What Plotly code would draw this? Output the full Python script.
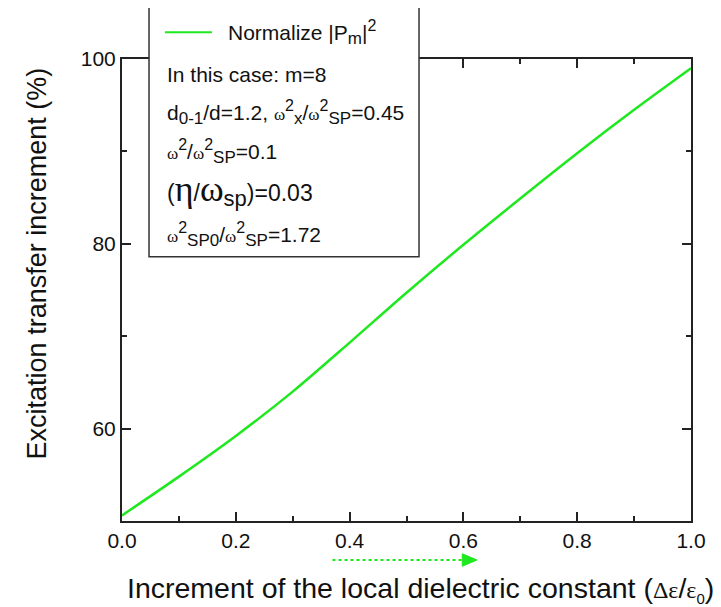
import plotly.graph_objects as go

# Data
x_vals = [0.0, 0.1, 0.2, 0.3, 0.4, 0.5, 0.6, 0.7, 0.8, 0.9, 1.0]
y_vals = [50.6, 54.8, 59.2, 64.0, 69.3, 74.7, 79.9, 84.9, 89.8, 94.5, 99.0]
x_ticks = [0.0, 0.2, 0.4, 0.6, 0.8, 1.0]
x_ticklabels = ["0.0", "0.2", "0.4", "0.6", "0.8", "1.0"]
y_ticks = [60, 80, 100]

GREEN = "#1ee81e"
FONT = "Liberation Sans, Arial, sans-serif"
SERIF = "font-family:'Liberation Serif','DejaVu Serif',serif"


def w(s="ω", size=17):
    return f"<span style=\"{SERIF};font-size:{size}px\">{s}</span>"


def sup(s, size=16):
    return f"<sup><span style=\"font-size:{size}px\">{s}</span></sup>"


def sub(s, size=17):
    return f"<sub><span style=\"font-size:{size}px\">{s}</span></sub>"


fig = go.Figure()
fig.add_trace(go.Scatter(x=x_vals, y=y_vals, mode="lines",
                         line=dict(color=GREEN, width=2.5, shape="spline", smoothing=0.8),
                         showlegend=False, name="Normalize |Pm|^2"))

axis_common = dict(showline=True, linecolor="#222", linewidth=2, mirror="ticks", ticks="inside",
                   tickcolor="#222", tickwidth=1.5, ticklen=9, showgrid=False, zeroline=False,
                   tickfont=dict(family=FONT, size=21, color="#111"))
fig.update_xaxes(range=[0, 1], tickvals=x_ticks, ticktext=x_ticklabels,
                 minor=dict(ticks="inside", ticklen=5, tickcolor="#222", tickwidth=1.5, dtick=0.1,
                            showgrid=False),
                 **axis_common)
fig.update_yaxes(range=[50, 100], tickvals=y_ticks,
                 minor=dict(ticks="inside", ticklen=5, tickcolor="#222", tickwidth=1.5, dtick=10,
                            showgrid=False),
                 **axis_common)

# legend box (opaque, covers the top axis)
fig.add_shape(type="rect", xref="paper", yref="paper", x0=0.0475, x1=0.522, y0=0.572, y1=1.3,
              line=dict(color="#333", width=1.5), fillcolor="white", layer="above")
fig.add_shape(type="line", xref="paper", yref="paper", x0=0.0756, x1=0.158, y0=1.058, y1=1.058,
              line=dict(color=GREEN, width=2), layer="above")

lines = [
    (0.183, 1.058, "Normalize |P" + sub("m") + "|" + sup("2"), 21),
    (0.0756, 0.9675, "In this case: m=8", 21),
    (0.0756, 0.884, "d" + sub("0-1") + "/d=1.2, " + w() + sup("2") + sub("x") + "/" + w() + sup("2")
     + sub("SP") + "=0.45", 21),
    (0.0756, 0.799, w() + sup("2") + "/" + w() + sup("2") + sub("SP") + "=0.1", 21),
    (0.0756, 0.716, "(" + w("η", 36) + "/" + w("ω", 36) + sub("sp", 22) + ")=0.03", 23),
    (0.0756, 0.620, w() + sup("2") + sub("SP0") + "/" + w() + sup("2") + sub("SP") + "=1.72", 21),
]
for xp, yp, txt, sz in lines:
    fig.add_annotation(x=xp, y=yp, xref="paper", yref="paper", text=txt, showarrow=False,
                       xanchor="left", yanchor="middle", font=dict(family=FONT, size=sz, color="#111"))

# axis titles
fig.add_annotation(x=-0.149, y=0.558, xref="paper", yref="paper", text="Excitation transfer increment (%)",
                   textangle=-90, showarrow=False, xanchor="center", yanchor="middle",
                   font=dict(family=FONT, size=27, color="#111"))
fig.add_annotation(x=0.524, y=-0.149, xref="paper", yref="paper",
                   text="Increment of the local dielectric constant (" + w("Δε", 24) + "/" + w("ε", 24)
                   + sub("0", 15) + ")",
                   showarrow=False, xanchor="center", yanchor="middle",
                   font=dict(family=FONT, size=28.5, color="#111"))

# dotted arrow under the x axis
fig.add_shape(type="line", xref="x", yref="paper", x0=0.37, x1=0.6, y0=-0.0844, y1=-0.0844,
              line=dict(color=GREEN, width=2, dash="dot"))
fig.add_shape(type="path", xref="x", yref="paper",
              path="M 0.598 -0.071 L 0.624 -0.0844 L 0.598 -0.098 Z", fillcolor=GREEN,
              line=dict(color=GREEN, width=1))

fig.update_layout(width=721, height=607, margin=dict(l=114, r=38, t=51, b=94),
                  plot_bgcolor="white", paper_bgcolor="white", font=dict(family=FONT))
fig.write_html("out.html")
